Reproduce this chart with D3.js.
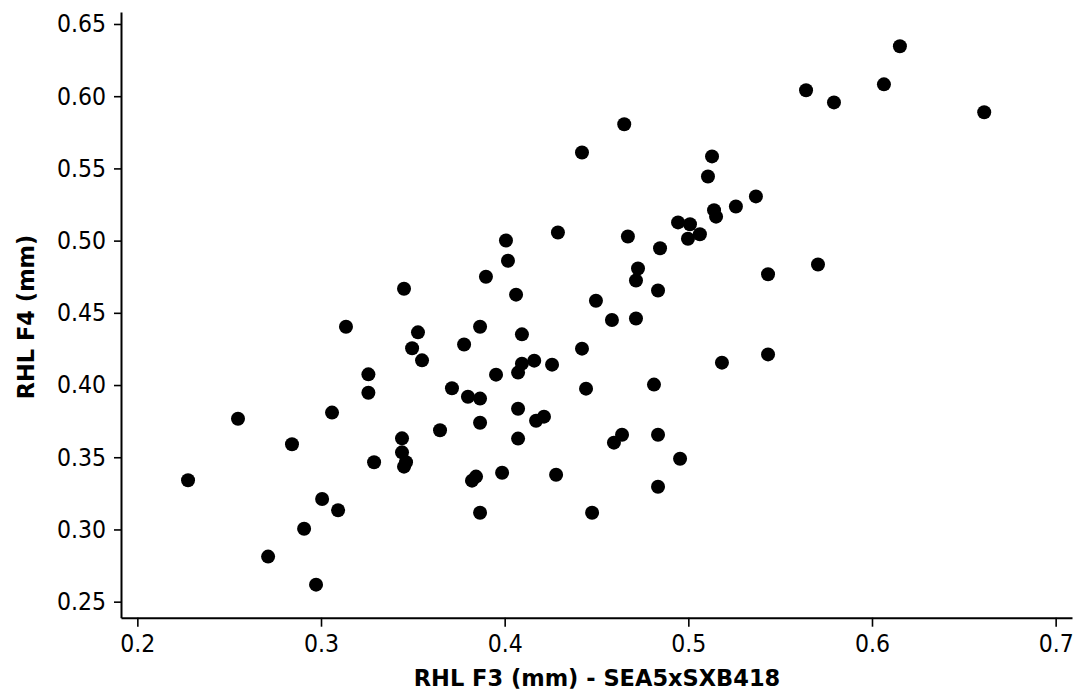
<!DOCTYPE html>
<html>
<head>
<meta charset="utf-8">
<script src="https://cdn.jsdelivr.net/npm/d3@7"></script>
<style>
  body { margin: 0; background: #fff; }
  .tick text { font-family: "DejaVu Sans Condensed", "DejaVu Sans", sans-serif; font-stretch: condensed; }
  .title { font-family: "DejaVu Sans", sans-serif; }
</style>
</head>
<body>
<div id="chart"></div>
<script>
const width = 1079;
const height = 696;

// RHL F3 (mm) per line
const rhlF3 = [
  0.2276, 0.2548, 0.2712, 0.2842, 0.2908, 0.2973, 0.3006, 0.3060, 0.3093, 0.3136,
  0.3258, 0.3258, 0.3289, 0.3441, 0.3441, 0.3463, 0.3452, 0.3452, 0.3496, 0.3528,
  0.3550, 0.3648, 0.3713, 0.3779, 0.3800, 0.3866, 0.3866, 0.3866, 0.3822, 0.3844,
  0.3866, 0.3898, 0.3953, 0.3986, 0.4007, 0.4018, 0.4062, 0.4073, 0.4073, 0.4073,
  0.4094, 0.4094, 0.4161, 0.4171, 0.4214, 0.4258, 0.4280, 0.4290, 0.4421, 0.4421,
  0.4443, 0.4476, 0.4497, 0.4584, 0.4595, 0.4639, 0.4651, 0.4671, 0.4715, 0.4715,
  0.4726, 0.4813, 0.4835, 0.4835, 0.4835, 0.4846, 0.4944, 0.4955, 0.4998, 0.5009,
  0.5063, 0.5107, 0.5129, 0.5140, 0.5151, 0.5183, 0.5259, 0.5368, 0.5434, 0.5434,
  0.5641, 0.5706, 0.5793, 0.6065, 0.6152, 0.6611
];

// RHL F4 (mm) per line
const rhlF4 = [
  0.3341, 0.3767, 0.2812, 0.3590, 0.3005, 0.2618, 0.3211, 0.3809, 0.3133, 0.4404,
  0.4074, 0.3947, 0.3465, 0.3631, 0.3534, 0.3465, 0.3435, 0.4667, 0.4255, 0.4365,
  0.4171, 0.3687, 0.3978, 0.4281, 0.3919, 0.4404, 0.3906, 0.3739, 0.3338, 0.3366,
  0.3116, 0.4750, 0.4072, 0.3393, 0.5001, 0.4861, 0.4626, 0.4086, 0.3836, 0.3629,
  0.4351, 0.4148, 0.4169, 0.3753, 0.3781, 0.4141, 0.3379, 0.5056, 0.5610, 0.4252,
  0.3975, 0.3116, 0.4584, 0.4450, 0.3601, 0.3656, 0.5806, 0.5029, 0.4724, 0.4461,
  0.4807, 0.4003, 0.4655, 0.3656, 0.3296, 0.4947, 0.5126, 0.3490, 0.5013, 0.5113,
  0.5044, 0.5444, 0.5583, 0.5211, 0.5166, 0.4155, 0.5236, 0.5306, 0.4767, 0.4212,
  0.6041, 0.4835, 0.5957, 0.6082, 0.6346, 0.5889
];

const xTicks = [0.2, 0.3, 0.4, 0.5, 0.6, 0.7];
const yTicks = [0.25, 0.30, 0.35, 0.40, 0.45, 0.50, 0.55, 0.60, 0.65];

const points = rhlF3.map((x, i) => ({ x: x, y: rhlF4[i] }));

const svg = d3.select("#chart")
    .append("svg")
    .attr("width", width)
    .attr("height", height);

const xScale = d3.scaleLinear()
    .domain([0.1911, 0.7089])
    .range([121, 1072]);
const yScale = d3.scaleLinear()
    .domain([0.2389, 0.6583])
    .range([617.7, 12]);

const xAxis = svg.append("g")
    .attr("transform", "translate(0,617.7)")
    .call(d3.axisBottom(xScale)
        .tickValues(xTicks)
        .tickFormat(d3.format(".1f"))
        .tickSizeInner(9)
        .tickSizeOuter(0)
        .tickPadding(8));

const yAxis = svg.append("g")
    .attr("transform", "translate(121,0)")
    .call(d3.axisLeft(yScale)
        .tickValues(yTicks)
        .tickFormat(d3.format(".2f"))
        .tickSizeInner(7)
        .tickSizeOuter(0)
        .tickPadding(8));

[xAxis, yAxis].forEach(g => {
    g.select(".domain").attr("stroke", "#000").attr("stroke-width", 2);
    g.selectAll(".tick line").attr("stroke", "#000").attr("stroke-width", 1.6);
    g.selectAll(".tick text")
        .attr("fill", "#000")
        .style("font-size", "24.5px");
});

svg.append("g")
    .selectAll("circle")
    .data(points)
    .join("circle")
    .attr("cx", d => xScale(d.x))
    .attr("cy", d => yScale(d.y))
    .attr("r", 7)
    .attr("fill", "#000");

svg.append("text")
    .attr("class", "title")
    .attr("x", 597)
    .attr("y", 686)
    .attr("text-anchor", "middle")
    .style("font-size", "22.5px")
    .style("font-weight", "bold")
    .text("RHL F3 (mm) - SEA5xSXB418");

svg.append("text")
    .attr("class", "title")
    .attr("transform", "rotate(-90)")
    .attr("x", -317)
    .attr("y", 34)
    .attr("text-anchor", "middle")
    .style("font-size", "22.5px")
    .style("font-weight", "bold")
    .text("RHL F4 (mm)");
</script>
</body>
</html>
